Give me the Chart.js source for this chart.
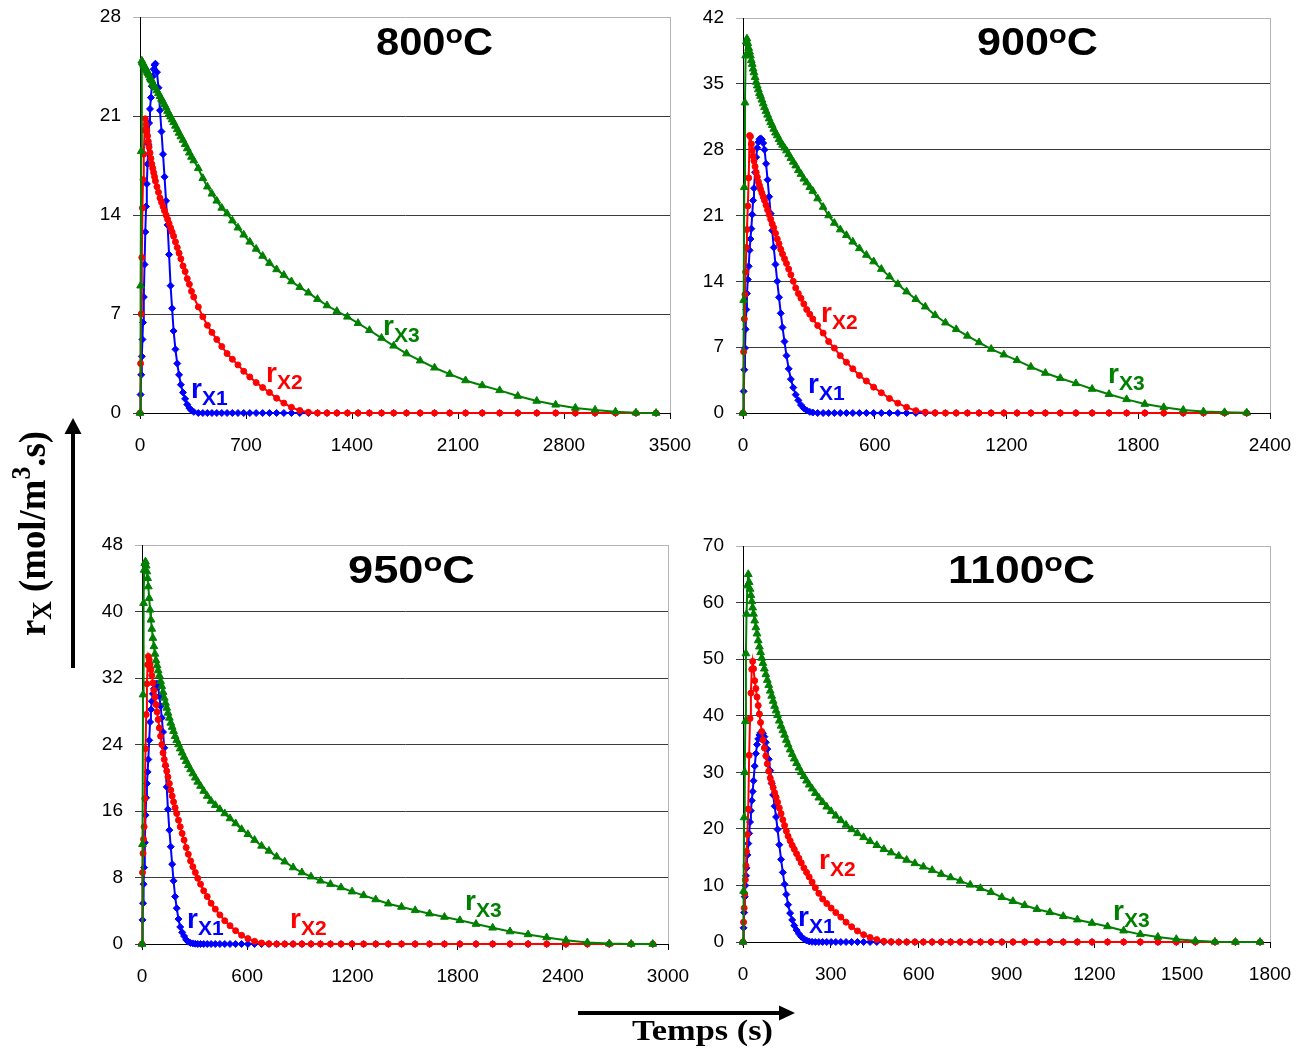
<!DOCTYPE html>
<html><head><meta charset="utf-8">
<script src="https://cdn.jsdelivr.net/npm/chart.js@4.4.1/dist/chart.umd.min.js"></script>
<style>
html,body{margin:0;padding:0;background:#fff;}
body{width:1307px;height:1053px;position:relative;overflow:hidden;}
canvas{position:absolute;}
#ov{position:absolute;left:0;top:0;pointer-events:none;}
</style></head><body>
<canvas id="c800" width="620" height="470" style="left:80px;top:0px"></canvas>
<canvas id="c900" width="615" height="470" style="left:683px;top:0px"></canvas>
<canvas id="c950" width="616" height="470" style="left:82px;top:528px"></canvas>
<canvas id="c1100" width="615" height="470" style="left:683px;top:528px"></canvas>
<svg id="ov" width="1307" height="1053" xmlns="http://www.w3.org/2000/svg">
 <g font-family="'Liberation Sans', Arial, sans-serif" font-weight="bold" fill="#000">
  <text x="376" y="55" font-size="38" textLength="117" lengthAdjust="spacingAndGlyphs">800<tspan font-size="26" dy="-12">o</tspan><tspan dy="12">C</tspan></text>
  <text x="977" y="55" font-size="38" textLength="121" lengthAdjust="spacingAndGlyphs">900<tspan font-size="26" dy="-12">o</tspan><tspan dy="12">C</tspan></text>
  <text x="348" y="583" font-size="38" textLength="127" lengthAdjust="spacingAndGlyphs">950<tspan font-size="26" dy="-12">o</tspan><tspan dy="12">C</tspan></text>
  <text x="948" y="583" font-size="38" textLength="147" lengthAdjust="spacingAndGlyphs">1100<tspan font-size="26" dy="-12">o</tspan><tspan dy="12">C</tspan></text>
 </g>
 <g font-family="'Liberation Sans', Arial, sans-serif" font-weight="bold" font-size="28">
  <text x="191" y="398" fill="#0000ff">r<tspan font-size="21" dy="7">X1</tspan></text>
  <text x="266" y="382" fill="#ff0000">r<tspan font-size="21" dy="7">X2</tspan></text>
  <text x="383" y="335" fill="#008000">r<tspan font-size="21" dy="7">X3</tspan></text>
  <text x="821" y="322" fill="#ff0000">r<tspan font-size="21" dy="7">X2</tspan></text>
  <text x="808" y="393" fill="#0000ff">r<tspan font-size="21" dy="7">X1</tspan></text>
  <text x="1108" y="383" fill="#008000">r<tspan font-size="21" dy="7">X3</tspan></text>
  <text x="187" y="928" fill="#0000ff">r<tspan font-size="21" dy="7">X1</tspan></text>
  <text x="290" y="928" fill="#ff0000">r<tspan font-size="21" dy="7">X2</tspan></text>
  <text x="465" y="910" fill="#008000">r<tspan font-size="21" dy="7">X3</tspan></text>
  <text x="819" y="869" fill="#ff0000">r<tspan font-size="21" dy="7">X2</tspan></text>
  <text x="798" y="926" fill="#0000ff">r<tspan font-size="21" dy="7">X1</tspan></text>
  <text x="1113" y="920" fill="#008000">r<tspan font-size="21" dy="7">X3</tspan></text>
 </g>
 <g font-family="'Liberation Serif', 'Times New Roman', serif" font-weight="bold" fill="#000">
  <text transform="translate(45,636) rotate(-90) scale(1,1.25)" x="0" y="0" font-size="30" textLength="205" lengthAdjust="spacingAndGlyphs">r<tspan font-size="21" dy="5">X</tspan><tspan dy="-5"> (mol/m</tspan><tspan font-size="21" dy="-12">3</tspan><tspan dy="12">.s)</tspan></text>
  <text x="632" y="1040" font-size="29" textLength="141" lengthAdjust="spacingAndGlyphs">Temps (s)</text>
 </g>
 <g fill="#000" stroke="#000">
  <line x1="73" y1="668" x2="73" y2="430" stroke-width="4"/>
  <polygon points="73,418 64.5,434 81.5,434" stroke="none"/>
  <line x1="578" y1="1013" x2="782" y2="1013" stroke-width="4"/>
  <polygon points="795,1013 779,1005.5 779,1020.5" stroke="none"/>
 </g>
</svg>
<script>
// ---------- 800 °C ----------
const T800 = [0,4,8,12,16,20,25,30,35,40,45,50,55,60,66,72,78,84,90,96,102,
 112,122,132,142,152,162,172,182,192,202,212,222,234,246,258,270,284,298,312,326,340,355,
 385,415,445,475,507,540,575,610,647,685,725,767,810,855,902,950,1000,
 1055,1112,1172,1235,1300,1370,1440,1515,1595,1675,1760,1850,1945,2045,2150,2260,2375,2495,2620,2745,2875,3005,3140,3275,3408];
const RX1_800 = [0,1.3,2.7,4.0,5.2,6.4,8.2,10.5,12.8,14.6,16.2,17.6,19.0,20.5,21.5,22.3,23.1,23.8,24.3,24.6,24.7,
 24.1,23.0,21.4,19.9,18.3,16.7,15.0,13.3,11.2,9.0,7.4,5.8,4.5,3.5,2.7,2.0,1.45,1.0,0.6,0.35,0.18,0.08,
 0,0,0,0,0,0,0,0,0,0,0,0,0,0,0,0,0,
 0,0,0,0,0,0,0,0,0,0,0,0,0,0,0,0,0,0,0,0,0,0,0,0,0];
const RX2_800 = [0,3.5,7.0,11.0,14.5,16.5,18.3,20.0,20.8,20.4,20.0,19.6,19.2,18.8,18.4,18.0,17.6,17.3,17.0,16.7,16.4,
 16.0,15.6,15.2,14.9,14.6,14.3,14.0,13.7,13.4,13.1,12.8,12.5,12.1,11.7,11.3,10.9,10.4,10.0,9.5,9.1,8.6,8.2,
 7.5,6.8,6.2,5.7,5.2,4.7,4.2,3.8,3.4,2.95,2.55,2.15,1.8,1.45,1.05,0.7,0.4,
 0.18,0.05,0,0,0,0,0,0,0,0,0,0,0,0,0,0,0,0,0,0,0,0,0,0,0];
const RX3_800 = [0,9,18.5,24.9,24.8,24.7,24.6,24.5,24.4,24.3,24.2,24.1,24.0,23.9,23.7,23.6,23.5,23.3,23.2,23.1,23.0,
 22.8,22.6,22.4,22.2,22.0,21.8,21.6,21.35,21.15,20.95,20.75,20.55,20.3,20.05,19.8,19.55,19.3,19.0,18.7,18.4,18.1,17.85,
 17.3,16.6,16.0,15.5,15.0,14.5,14.1,13.6,13.1,12.6,12.1,11.6,11.1,10.6,10.15,9.75,9.3,
 8.9,8.5,8.05,7.6,7.2,6.8,6.35,5.85,5.3,4.75,4.2,3.7,3.2,2.75,2.3,1.95,1.6,1.2,0.85,0.58,0.36,0.22,0.09,0.02,0];

// ---------- 900 °C ----------
const T900 = [0,3,6,9,12,15,18,22,26,30,34,38,42,46,50,55,60,65,70,75,80,86,92,
 98,105,112,119,126,133,140,148,156,164,172,180,189,198,208,218,229,240,252,264,277,290,304,318,
 340,365,390,416,443,471,500,530,562,595,630,667,705,745,787,830,
 875,922,971,1022,1075,1130,1188,1248,1311,1377,1445,1516,1590,1667,1747,1830,1916,2005,2097,2193,2294];
const RX1_900 = [0,2.3,4.6,6.9,8.9,11.0,12.7,14.2,15.6,17.3,18.5,19.6,21.1,22.6,23.9,25.6,27.2,28.2,28.8,29.1,29.2,29.1,28.7,
 28.0,26.5,24.8,23.0,21.2,19.4,17.6,15.8,14.0,12.3,10.6,9.1,7.6,6.1,4.7,3.6,2.7,1.95,1.35,0.85,0.5,0.27,0.12,0.05,
 0,0,0,0,0,0,0,0,0,0,0,0,0,0,0,0,
 0,0,0,0,0,0,0,0,0,0,0,0,0,0,0,0,0,0,0,0,0];
const RX2_900 = [0,6.5,10.0,12.6,15.0,17.6,19.5,22.0,25.0,29.5,29.4,28.6,27.9,27.3,26.8,26.2,25.6,25.1,24.6,24.2,23.8,23.4,23.0,
 22.6,22.1,21.6,21.1,20.6,20.1,19.7,19.1,18.5,18.0,17.4,16.9,16.4,15.9,15.3,14.7,14.0,13.3,12.7,12.2,11.6,11.0,10.5,10.0,
 9.3,8.5,7.6,6.9,6.1,5.4,4.7,4.0,3.4,2.75,2.15,1.55,1.05,0.6,0.25,0.08,
 0.02,0,0,0,0,0,0,0,0,0,0,0,0,0,0,0,0,0,0,0,0];
const RX3_900 = [0,12,24,33,38,39.5,39.8,39.3,38.8,38.4,38.0,37.5,37.1,36.6,36.2,35.7,35.2,34.8,34.4,34.0,33.7,33.3,32.9,
 32.5,32.1,31.7,31.3,30.9,30.6,30.2,29.8,29.5,29.1,28.8,28.5,28.2,27.9,27.5,27.1,26.7,26.3,25.8,25.4,24.9,24.5,24.0,23.6,
 22.8,21.9,21.0,20.2,19.5,18.9,18.2,17.5,16.8,16.1,15.3,14.5,13.7,12.9,12.1,11.3,
 10.4,9.6,8.9,8.2,7.5,6.8,6.2,5.6,4.9,4.25,3.7,3.15,2.55,2.0,1.45,0.95,0.6,0.32,0.15,0.07,0.03];

// ---------- 950 °C ----------
const T950 = [0,3,6,9,12,16,20,24,28,32,36,41,46,51,56,62,68,74,80,86,92,
 99,106,113,120,127,134,141,148,156,164,172,180,189,198,208,218,229,240,252,264,277,290,304,318,
 334,352,372,394,418,444,472,502,534,568,604,642,682,724,768,814,862,912,
 964,1018,1075,1135,1198,1264,1333,1405,1480,1558,1640,1725,1813,1905,2000,2099,2202,2308,2418,2540,2665,2790,2913];
const RX1_950 = [0,2.9,4.9,7.2,9.2,12.2,15.5,17.6,19.3,20.7,22.2,24.5,26.7,28.2,29.2,30.1,30.7,31.1,31.3,31.3,30.9,
 29.8,28.6,27.2,25.5,23.6,21.4,18.9,16.2,13.7,11.7,9.6,7.6,5.7,4.3,3.0,2.05,1.4,0.95,0.5,0.28,0.13,0.07,0.03,0,
 0,0,0,0,0,0,0,0,0,0,0,0,0,0,0,0,0,0,
 0,0,0,0,0,0,0,0,0,0,0,0,0,0,0,0,0,0,0,0,0,0,0];
const RX2_950 = [0,8.6,10.9,12.6,14.1,17.5,23.5,27.6,31.3,33.6,34.6,34.2,33.6,33.0,32.3,31.4,30.5,29.7,28.8,27.9,27.0,
 26.0,25.0,24.0,23.0,22.2,21.5,20.8,20.1,19.3,18.5,17.8,17.1,16.4,15.7,14.9,14.1,13.3,12.5,11.6,10.8,10.0,9.3,8.6,7.9,
 7.2,6.4,5.7,4.9,4.2,3.5,2.8,2.2,1.6,1.05,0.65,0.32,0.12,0.03,0,0,0,0,
 0,0,0,0,0,0,0,0,0,0,0,0,0,0,0,0,0,0,0,0,0,0,0];
const RX3_950 = [0,12,30,41,45,45.8,46.0,45.5,44.8,44.0,43.0,41.6,40.2,39.0,37.9,36.8,35.8,34.9,34.1,33.5,32.9,
 32.3,31.6,31.0,30.3,29.6,29.0,28.4,27.8,27.2,26.6,26.1,25.6,25.0,24.5,24.0,23.5,23.0,22.5,22.0,21.5,21.0,20.5,20.0,19.5,
 19.0,18.4,17.8,17.2,16.7,16.2,15.7,15.1,14.5,13.8,13.2,12.5,11.8,11.2,10.5,9.9,9.2,8.6,
 8.1,7.6,7.2,6.8,6.3,5.85,5.35,4.85,4.45,4.05,3.65,3.25,2.85,2.4,1.95,1.5,1.15,0.78,0.45,0.18,0.05,0.01,0];

// ---------- 1100 °C ----------
const T1100 = [0,2,4,6,8,10,12,15,18,21,24,27,30,33,36,40,44,48,52,56,60,64,68,
 73,78,83,88,93,98,103,108,113,118,124,130,136,142,148,154,161,168,175,183,191,199,208,217,226,
 236,247,259,272,286,301,317,334,352,371,391,412,434,457,481,506,532,559,587,616,646,677,709,742,776,811,847,884,922,
 962,1004,1048,1094,1142,1192,1245,1300,1357,1417,1480,1545,1612,1682,1766];
const RX1_1100 = [0,2.5,5.2,8.0,10.0,11.7,13.1,15.4,17.4,19.2,21.2,23.2,25.0,26.6,28.5,31.1,33.3,34.9,35.9,36.6,37.0,37.1,36.9,
 36.3,35.3,34.1,32.3,30.3,28.0,26.0,24.0,22.1,19.9,17.2,14.6,12.3,10.2,8.4,6.6,5.1,3.9,2.9,2.1,1.45,0.95,0.55,0.28,0.1,
 0.03,0,0,0,0,0,0,0,0,0,0,0,0,0,0,0,0,0,0,0,0,0,0,0,0,0,0,0,0,
 0,0,0,0,0,0,0,0,0,0,0,0,0,0,0];
const RX2_1100 = [0,3.5,6.0,8.5,11.0,13.5,16.0,19.0,23.5,33.0,39.5,44.0,48.2,49.6,48.3,46.2,44.8,43.3,41.8,40.3,38.8,37.2,35.7,
 34.3,32.9,31.5,30.2,29.0,28.2,27.3,26.4,25.6,24.7,23.7,22.7,21.6,20.6,19.6,18.7,17.9,17.1,16.4,15.6,14.8,14.0,13.1,12.3,11.5,
 10.6,9.6,8.6,7.6,6.8,6.0,5.2,4.4,3.5,2.7,1.95,1.3,0.8,0.42,0.12,0.04,0,0,0,0,0,0,0,0,0,0,0,0,0,
 0,0,0,0,0,0,0,0,0,0,0,0,0,0,0];
const RX3_1100 = [0,9,22,30,39,51,58,63,65,63.6,62.4,61.3,60.2,59.1,58.0,56.8,55.6,54.5,53.3,52.2,51.2,50.2,49.3,
 48.3,47.3,46.3,45.4,44.4,43.5,42.6,41.7,40.9,40.1,39.1,38.2,37.4,36.6,35.7,34.9,34.0,33.2,32.4,31.6,30.8,30.0,29.3,28.5,27.8,
 27.1,26.3,25.5,24.7,23.9,23.1,22.3,21.5,20.7,19.9,19.2,18.5,17.8,17.1,16.4,15.8,15.2,14.5,13.9,13.3,12.7,12.0,11.4,10.8,10.1,9.5,8.8,7.9,7.2,
 6.5,5.8,5.25,4.55,3.95,3.35,2.75,2.0,1.35,0.9,0.5,0.2,0.04,0,0];

// axis settings per panel
const X_MAX = [3500, 2400, 3000, 1800];
const X_STEP = [700, 600, 600, 300];
const Y_MAX = [28, 42, 48, 70];
const Y_STEP = [7, 7, 8, 10];

Chart.defaults.font.family = "'Liberation Sans', Arial, sans-serif";
Chart.defaults.font.size = 19;
Chart.defaults.color = '#000';

function panel(id, T, A, B, C, k, pad) {
  const mk = V => T.map((t, i) => ({x: t, y: V[i]}));
  const common = {showLine: true, borderWidth: 2, pointBorderWidth: 1, tension: 0, clip: false, pointHoverRadius: 0};
  new Chart(document.getElementById(id), {
    type: 'scatter',
    data: {datasets: [
      Object.assign({data: mk(C), borderColor: '#008000', backgroundColor: '#008000', pointStyle: 'triangle', pointRadius: 4.5, order: 1}, common),
      Object.assign({data: mk(B), borderColor: '#ff0000', backgroundColor: '#ff0000', pointStyle: 'circle', pointRadius: 3, order: 2}, common),
      Object.assign({data: mk(A), borderColor: '#0000ff', backgroundColor: '#0000ff', pointStyle: 'rectRot', pointRadius: 3.5, order: 3}, common)
    ]},
    options: {
      responsive: false, animation: false, events: [],
      layout: {padding: pad},
      plugins: {legend: {display: false}, tooltip: {enabled: false}},
      scales: {
        x: {type: 'linear', min: 0, max: X_MAX[k],
            afterFit: s => { s.height = 40; s.paddingLeft = 0; s.paddingRight = 0; },
            ticks: {stepSize: X_STEP[k], autoSkip: false, maxRotation: 0, padding: 15, color: '#000',
                    callback: v => String(v)},
            grid: {color: c => (c.tick && c.tick.value === X_MAX[k]) ? '#b4b4b4' : 'rgba(0,0,0,0)',
                   tickColor: '#000', tickLength: 6},
            border: {color: '#000', width: 1}},
        y: {min: 0, max: Y_MAX[k],
            afterFit: s => { s.width = 60; s.paddingTop = 0; s.paddingBottom = 0; },
            ticks: {stepSize: Y_STEP[k], padding: 12, color: '#000', callback: v => String(v)},
            grid: {color: c => (c.tick && c.tick.value === Y_MAX[k]) ? '#b4b4b4' : '#3a3a3a',
                   tickColor: c => (c.tick && c.tick.value === Y_MAX[k]) ? '#b4b4b4' : '#3a3a3a',
                   tickLength: 7},
            border: {color: '#000', width: 1}}
      }
    }
  });
}
panel('c800', T800, RX1_800, RX2_800, RX3_800, 0, {top: 17, right: 30, bottom: 17, left: 0});
panel('c900', T900, RX1_900, RX2_900, RX3_900, 1, {top: 18, right: 28, bottom: 17, left: 0});
panel('c950', T950, RX1_950, RX2_950, RX3_950, 2, {top: 17, right: 30, bottom: 14, left: 0});
panel('c1100', T1100, RX1_1100, RX2_1100, RX3_1100, 3, {top: 18, right: 28, bottom: 16, left: 0});
</script>
</body></html>
